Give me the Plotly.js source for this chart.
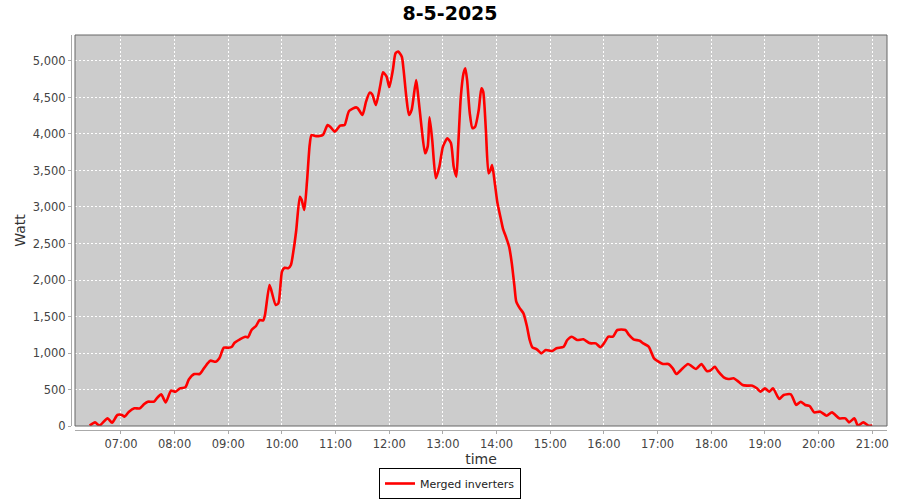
<!DOCTYPE html>
<html>
<head>
<meta charset="utf-8">
<script src="https://cdn.plot.ly/plotly-3.0.1.min.js"></script>
<style>html,body{margin:0;padding:0;background:#fff;}#chart{width:900px;height:500px;}</style>
</head>
<body>
<div id="chart"></div>
<script>
const chartDate = "2025-05-08";
const chartTitle = "8-5-2025";
const seriesName = "Merged inverters";
const xLabel = "time";
const yLabel = "Watt";

const times = [
"06:25","06:31","06:36","06:45","06:50","06:56","07:01","07:04","07:09","07:15",
"07:21","07:26","07:30","07:37","07:41","07:45","07:50","07:56","08:01","08:06",
"08:12","08:16","08:22","08:28","08:31","08:36","08:40","08:46","08:50","08:55",
"09:00","09:04","09:07","09:13","09:19","09:22","09:26","09:31","09:35","09:39",
"09:41","09:46","09:48","09:53","09:56","10:00","10:03","10:07","10:10","10:13",
"10:16","10:20","10:22","10:25","10:28","10:31","10:33","10:37","10:42","10:46",
"10:51","10:54","10:59","11:05","11:10","11:15","11:23","11:25","11:30","11:34",
"11:38","11:41","11:45","11:50","11:53","11:57","12:00","12:04","12:07","12:10",
"12:14","12:16","12:19","12:22","12:25","12:30","12:32","12:36","12:40","12:43",
"12:45","12:48","12:52","12:56","13:00","13:05","13:09","13:12","13:15","13:17",
"13:20","13:23","13:25","13:27","13:30","13:33","13:36","13:40","13:43","13:45",
"13:48","13:51","13:53","13:55","13:58","14:01","14:05","14:07","14:11","14:14",
"14:17","14:20","14:22","14:26","14:30","14:34","14:37","14:40","14:45","14:50",
"14:55","15:02","15:07","15:15","15:19","15:24","15:30","15:37","15:43","15:46",
"15:51","15:56","16:00","16:05","16:10","16:15","16:24","16:28","16:33","16:40",
"16:44","16:50","16:56","17:01","17:06","17:12","17:17","17:21","17:27","17:34",
"17:43","17:49","17:55","17:59","18:04","18:08","18:14","18:19","18:25","18:29",
"18:35","18:40","18:46","18:51","18:55","19:00","19:05","19:09","19:16","19:21",
"19:29","19:35","19:40","19:45","19:50","19:55","20:02","20:09","20:15","20:23",
"20:30","20:34","20:40","20:44","20:50","20:56","21:00"
];
const watts = [
5,50,5,105,45,151,151,128,196,242,
242,301,333,333,393,434,324,484,470,516,
530,640,712,712,758,845,895,881,927,1073,
1073,1086,1141,1187,1223,1214,1315,1370,1452,1445,
1520,1932,1863,1658,1680,2114,2168,2160,2205,2411,
2685,3141,3100,2959,3350,3849,3986,3973,3973,3990,
4123,4100,4032,4114,4123,4315,4365,4350,4260,4443,
4566,4540,4397,4671,4845,4786,4640,4877,5105,5128,
5059,4877,4511,4260,4330,4740,4560,4100,3736,3830,
4228,3918,3393,3553,3826,3941,3872,3553,3416,3826,
4511,4831,4900,4740,4283,4078,4100,4329,4626,4580,
4055,3461,3500,3575,3325,3050,2822,2708,2571,2456,
2228,1908,1703,1612,1543,1360,1178,1078,1050,995,
1041,1027,1064,1086,1178,1223,1178,1187,1141,1132,
1132,1078,1132,1223,1223,1315,1315,1247,1187,1168,
1132,1086,927,881,849,849,790,712,777,849,
781,849,753,760,812,744,667,644,653,621,
562,553,553,516,470,516,470,516,370,425,
434,288,333,288,274,187,196,141,187,105,
105,50,105,5,50,5,5
];
const xTickStart = "07:00";
const xRange = ["06:08:36", "21:16:30"];
const yRange = [0, 5356];

const xs = times.map(t => chartDate + " " + t);

const tickFont = {family: "DejaVu Sans, sans-serif", size: 11.5, color: "#444444"};

const trace = {
  type: "scatter",
  mode: "lines",
  name: seriesName,
  x: xs,
  y: watts,
  line: {color: "#ff0000", width: 2.6, shape: "spline", smoothing: 0.6},
  hoverinfo: "x+y"
};

const W = 816, H = 395, gap = 4;

const layout = {
  width: 900,
  height: 500,
  paper_bgcolor: "#ffffff",
  plot_bgcolor: "#cccccc",
  margin: {l: 71, r: 13, t: 35, b: 70, pad: 0},
  title: {
    text: "<b>" + chartTitle + "</b>",
    font: {family: "DejaVu Sans, sans-serif", size: 19, color: "#000000"},
    x: 0.5, xref: "container", xanchor: "center",
    y: 1 - 13/500, yref: "container", yanchor: "middle"
  },
  showlegend: true,
  legend: {
    orientation: "h",
    x: 0.5, xref: "container", xanchor: "center",
    y: 1 - 499/500, yref: "container", yanchor: "bottom",
    bgcolor: "#ffffff",
    bordercolor: "#000000",
    borderwidth: 1,
    font: {family: "DejaVu Sans, sans-serif", size: 11, color: "#222222"},
    itemwidth: 30
  },
  xaxis: {
    type: "date",
    domain: [gap / W, 1],
    anchor: "free",
    position: 0,
    range: [chartDate + " " + xRange[0], chartDate + " " + xRange[1]],
    tick0: chartDate + " " + xTickStart,
    dtick: 3600000,
    tickformat: "%H:%M",
    showline: true,
    linecolor: "#aaaaaa",
    linewidth: 1,
    ticks: "outside",
    ticklen: 3,
    tickcolor: "#aaaaaa",
    tickfont: tickFont,
    showgrid: true,
    gridcolor: "#ffffff",
    gridwidth: 1,
    griddash: "2px,2px",
    zeroline: false,
    automargin: false,
    title: {text: xLabel, font: {family: "DejaVu Sans, sans-serif", size: 14, color: "#333333"}, standoff: 4}
  },
  yaxis: {
    domain: [gap / H, 1],
    anchor: "free",
    position: 0,
    range: yRange,
    dtick: 500,
    tick0: 0,
    tickformat: ",d",
    showline: true,
    linecolor: "#aaaaaa",
    linewidth: 1,
    ticks: "outside",
    ticklen: 3,
    tickcolor: "#aaaaaa",
    tickfont: tickFont,
    showgrid: true,
    gridcolor: "#ffffff",
    gridwidth: 1,
    griddash: "2px,2px",
    zeroline: false,
    automargin: false,
    title: {text: yLabel, font: {family: "DejaVu Sans, sans-serif", size: 14, color: "#333333"}, standoff: 2}
  },
  shapes: [{
    type: "rect", xref: "x domain", yref: "y domain",
    x0: 0, x1: 1, y0: 0, y1: 1,
    line: {color: "#666666", width: 1},
    fillcolor: "rgba(0,0,0,0)",
    layer: "above"
  }]
};

Plotly.newPlot("chart", [trace], layout, {displayModeBar: false, staticPlot: true});
</script>
</body>
</html>
